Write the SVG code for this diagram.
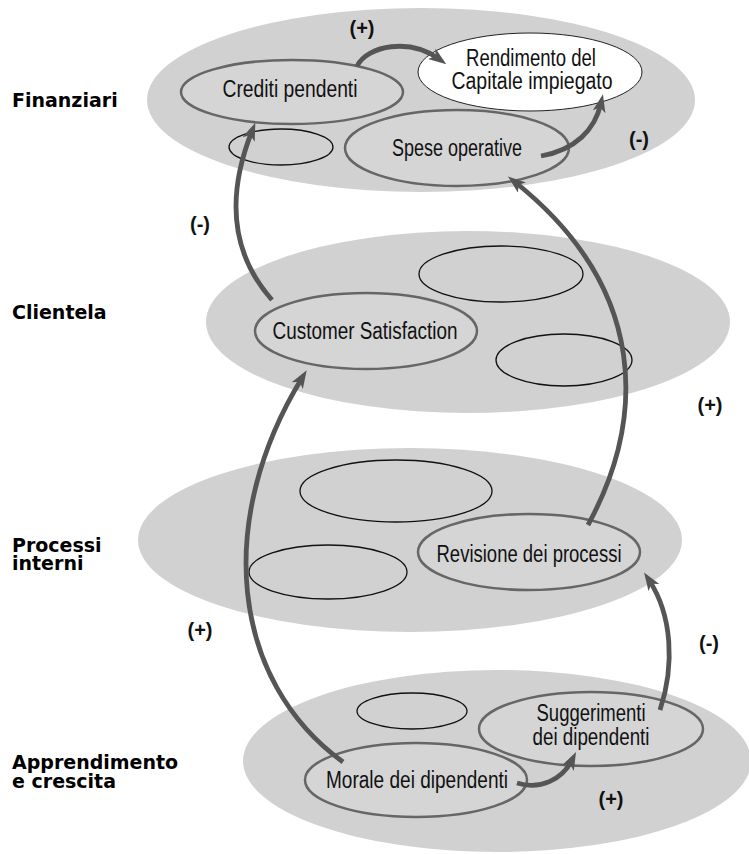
<svg xmlns="http://www.w3.org/2000/svg" width="749" height="854" viewBox="0 0 749 854">
<defs>
<style>
.layer{fill:#d1d1d1;stroke:none}
.node{fill:#d5d5d5;stroke:#666;stroke-width:2.5}
.empty{fill:none;stroke:#111;stroke-width:1.3}
.white{fill:#fff;stroke:#222;stroke-width:1}
.nt{font-family:"Liberation Sans",Arial,sans-serif;font-size:23px;fill:#111;text-anchor:middle}
.lbl{font-family:"DejaVu Sans","Liberation Sans",sans-serif;font-weight:bold;font-size:19px;fill:#000}
.sg{font-family:"Liberation Sans",Arial,sans-serif;font-weight:bold;font-size:20px;fill:#111;text-anchor:middle}
.arr{fill:none;stroke:#555;stroke-width:4.8;marker-end:url(#ah)}
</style>
<marker id="ah" viewBox="0 0 18 13" markerWidth="18" markerHeight="13" refX="9" refY="6.5" orient="auto" markerUnits="userSpaceOnUse">
<path d="M0,0 L18,6.5 L0,13 L4.5,6.5 Z" fill="#555"/>
</marker>
</defs>
<g id="layers">
<ellipse class="layer" cx="421" cy="100" rx="274" ry="92"/>
<ellipse class="layer" cx="468" cy="322" rx="262" ry="91"/>
<ellipse class="layer" cx="410" cy="540" rx="272" ry="92"/>
<ellipse class="layer" cx="497" cy="761" rx="254" ry="91"/>
</g>
<g id="labels">
<text class="lbl" x="12" y="107">Finanziari</text>
<text class="lbl" x="12" y="319">Clientela</text>
<text class="lbl" x="12" y="552">Processi</text>
<text class="lbl" x="12" y="570">interni</text>
<text class="lbl" x="12" y="769">Apprendimento</text>
<text class="lbl" x="12" y="788">e crescita</text>
</g>
<g id="empty-ellipses">
<ellipse class="empty" cx="281" cy="147" rx="52" ry="18"/>
<ellipse class="empty" cx="501" cy="274" rx="82" ry="28"/>
<ellipse class="empty" cx="564" cy="360" rx="68" ry="26"/>
<ellipse class="empty" cx="396" cy="491" rx="96" ry="31"/>
<ellipse class="empty" cx="328" cy="572" rx="79" ry="27"/>
<ellipse class="empty" cx="412" cy="711" rx="55" ry="18"/>
</g>
<g id="crediti">
<ellipse class="node" cx="292" cy="92" rx="111" ry="32"/>
<text class="nt" x="290" y="97" textLength="135" lengthAdjust="spacingAndGlyphs">Crediti pendenti</text>
</g>
<g id="rendimento">
<ellipse class="white" cx="530" cy="72" rx="112" ry="39"/>
<text class="nt" x="531" y="66" textLength="130" lengthAdjust="spacingAndGlyphs">Rendimento del</text>
<text class="nt" x="532" y="89" textLength="161" lengthAdjust="spacingAndGlyphs">Capitale impiegato</text>
</g>
<g id="spese">
<ellipse class="node" cx="457" cy="148" rx="112" ry="38"/>
<text class="nt" x="457" y="156" textLength="130" lengthAdjust="spacingAndGlyphs">Spese operative</text>
</g>
<g id="customer">
<ellipse class="node" cx="366" cy="331" rx="111" ry="38"/>
<text class="nt" x="365" y="339" textLength="185" lengthAdjust="spacingAndGlyphs">Customer Satisfaction</text>
</g>
<g id="revisione">
<ellipse class="node" cx="529" cy="552" rx="111" ry="38"/>
<text class="nt" x="529" y="562" textLength="185" lengthAdjust="spacingAndGlyphs">Revisione dei processi</text>
</g>
<g id="suggerimenti">
<ellipse class="node" cx="591" cy="729" rx="112" ry="37"/>
<text class="nt" x="591" y="721" textLength="109" lengthAdjust="spacingAndGlyphs">Suggerimenti</text>
<text class="nt" x="591" y="745" textLength="117" lengthAdjust="spacingAndGlyphs">dei dipendenti</text>
</g>
<g id="morale">
<ellipse class="node" cx="416" cy="780" rx="111" ry="37"/>
<text class="nt" x="417" y="788" textLength="182" lengthAdjust="spacingAndGlyphs">Morale dei dipendenti</text>
</g>
<g id="connectors">
<path class="arr" d="M357,66 C368,45 410,38 439,59"/>
<path class="arr" d="M541,156 C575,150 595,130 601,103"/>
<path class="arr" d="M272,300 Q212,232 252,131"/>
<path class="arr" d="M588,525 C645,420 650,290 515,182"/>
<path class="arr" d="M343,762 C230,680 215,520 302,378"/>
<path class="arr" d="M660,710 C675,665 672,615 649,580"/>
<path class="arr" d="M517,783 C540,790 562,780 572,760"/>
</g>
<g id="signs">
<text class="sg" x="362" y="35">(+)</text>
<text class="sg" x="639" y="146">(-)</text>
<text class="sg" x="200" y="231">(-)</text>
<text class="sg" x="710" y="412">(+)</text>
<text class="sg" x="200" y="637">(+)</text>
<text class="sg" x="709" y="650">(-)</text>
<text class="sg" x="611" y="806">(+)</text>
</g>
</svg>
